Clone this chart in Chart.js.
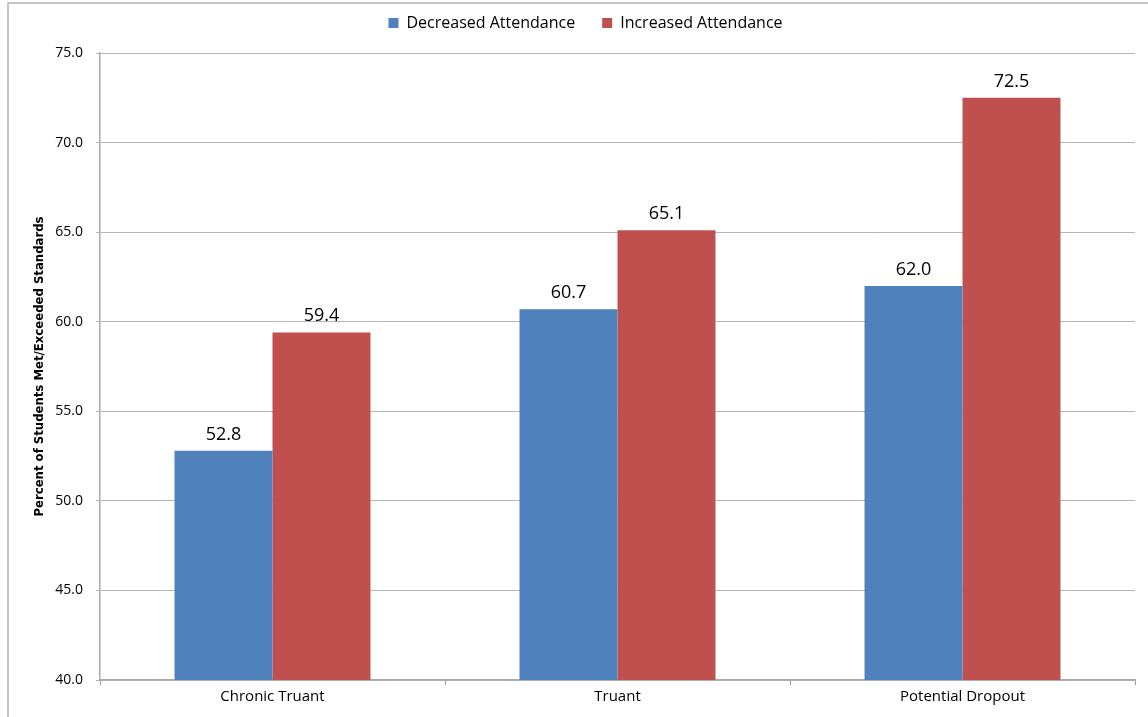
<!DOCTYPE html>
<html>
<head>
<meta charset="utf-8">
<script src="https://cdn.jsdelivr.net/npm/chart.js@4"></script>
<style>
    html, body { margin: 0; padding: 0; background: #fff; overflow: hidden; }
    #wrap { position: relative; width: 1148px; height: 717px; }
    #frame { position: absolute; left: 7px; top: 2px; width: 1300px; height: 900px; border: 2px solid #c4c4c4; box-sizing: border-box; }
    canvas { position: absolute; left: 0; top: 0; }
</style>
</head>
<body>
<div id="wrap">
    <div id="frame"></div>
    <canvas id="chart" width="1148" height="717"></canvas>
</div>
<script>
// データ
const categories = ['Chronic Truant', 'Truant', 'Potential Dropout'];
const decreased = [52.8, 60.7, 62.0];
const increased = [59.4, 65.1, 72.5];
const seriesNames = ['Decreased Attendance', 'Increased Attendance'];
const yTitle = 'Percent of Students Met/Exceeded Standards';

const baseFont = "'Open Sans', 'Noto Sans', sans-serif";

// バーの上に値を表示
const valueLabels = {
    id: 'valueLabels',
    afterDatasetsDraw(chart) {
        const ctx = chart.ctx;
        ctx.save();
        ctx.font = "18px " + baseFont;
        ctx.fillStyle = '#000';
        ctx.textAlign = 'center';
        ctx.textBaseline = 'alphabetic';
        chart.data.datasets.forEach((ds, i) => {
            chart.getDatasetMeta(i).data.forEach((bar, j) => {
                ctx.fillText(ds.data[j].toFixed(1), bar.x, bar.y - 11);
            });
        });
        ctx.restore();
    }
};

// 凡例の高さと位置を調整（プロット上端を合わせる）
const legendSpace = {
    id: 'legendSpace',
    beforeInit(chart) {
        const fit = chart.legend.fit;
        chart.legend.fit = function () {
            fit.call(this);
            this.height = 65;
        };
    },
    afterLayout(chart) {
        chart.legend.left += 18;
        chart.legend.right += 18;
    }
};

new Chart(document.getElementById('chart'), {
    type: 'bar',
    data: {
        labels: categories,
        datasets: [{
            label: seriesNames[0],
            data: decreased,
            backgroundColor: '#4F81BD',
            borderWidth: 0
        }, {
            label: seriesNames[1],
            data: increased,
            backgroundColor: '#C0504D',
            borderWidth: 0
        }]
    },
    options: {
        responsive: false,
        animation: false,
        layout: { padding: { left: 0, right: 13, top: -12, bottom: 0 } },
        categoryPercentage: 0.568,
        barPercentage: 1.0,
        plugins: {
            legend: {
                position: 'top',
                labels: {
                    boxWidth: 10,
                    boxHeight: 10,
                    padding: 27,
                    color: '#000',
                    font: { family: baseFont, size: 16 }
                }
            },
            tooltip: { enabled: false }
        },
        scales: {
            x: {
                grid: {
                    offset: true,
                    drawOnChartArea: false,
                    drawTicks: true,
                    tickLength: 5,
                    color: '#999'
                },
                border: { color: '#aaa', width: 1.5 },
                ticks: {
                    color: '#000',
                    padding: 3,
                    font: { family: baseFont, size: 15 }
                },
                afterFit(scale) { scale.height = 37; }
            },
            y: {
                min: 40,
                max: 75,
                ticks: {
                    stepSize: 5,
                    color: '#000',
                    padding: 13,
                    font: { family: baseFont, size: 14 },
                    callback: v => v.toFixed(1)
                },
                grid: { color: '#b5b5b5', tickLength: 4 },
                border: { color: '#aaa', width: 1.5 },
                title: {
                    display: true,
                    text: yTitle,
                    color: '#000',
                    padding: { top: 32, bottom: 0 },
                    font: { family: "'Liberation Sans Narrow', 'DejaVu Sans Condensed', sans-serif", size: 13, weight: 'bold' }
                },
                afterFit(scale) { scale.width = 100; }
            }
        }
    },
    plugins: [valueLabels, legendSpace]
});
</script>
</body>
</html>
